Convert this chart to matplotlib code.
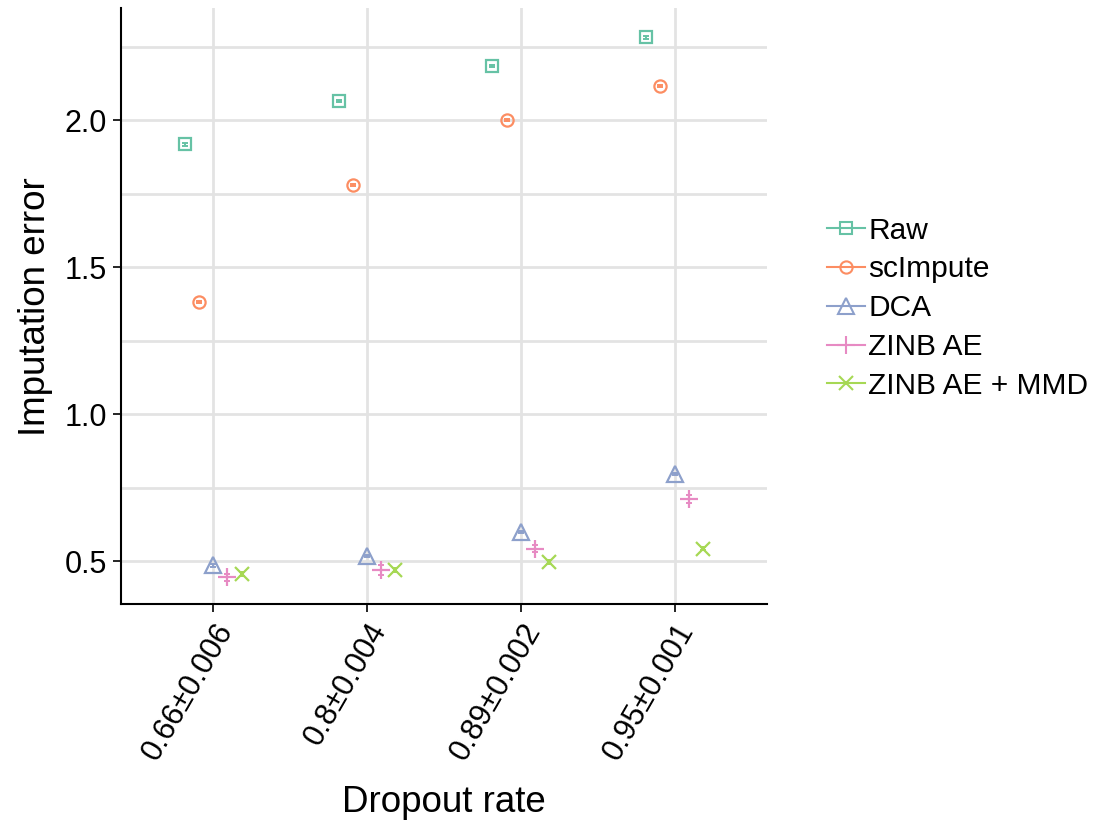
import numpy as np
import matplotlib
matplotlib.use("Agg")
from matplotlib import pyplot as plt
from matplotlib.lines import Line2D

plt.rcParams['font.family'] = ['Liberation Sans', 'DejaVu Sans']

dropout_labels = ["0.66±0.006", "0.8±0.004", "0.89±0.002", "0.95±0.001"]
methods = ["Raw", "scImpute", "DCA", "ZINB AE", "ZINB AE + MMD"]

raw_err = [1.918, 2.065, 2.184, 2.282]
scimpute_err = [1.381, 1.779, 2.000, 2.116]
dca_err = [0.485, 0.517, 0.598, 0.796]
zinb_err = [0.445, 0.469, 0.542, 0.712]
zinb_mmd_err = [0.455, 0.470, 0.496, 0.542]

raw_sd = [0.004, 0.004, 0.004, 0.004]
scimpute_sd = [0.004, 0.004, 0.004, 0.004]
dca_sd = [0.004, 0.004, 0.004, 0.004]
zinb_sd = [0.012, 0.018, 0.012, 0.014]
zinb_mmd_sd = [0.006, 0.006, 0.006, 0.006]

colors = ["#66c2a5", "#fc8d62", "#8da0cb", "#e78ac3", "#a6d854"]
markers = ["s", "o", "^", "+", "x"]
msizes = [8.8, 8.8, 11, 13, 9.5]

values = [raw_err, scimpute_err, dca_err, zinb_err, zinb_mmd_err]
sds = [raw_sd, scimpute_sd, dca_sd, zinb_sd, zinb_mmd_sd]

fig = plt.figure(figsize=(11.05, 8.33), dpi=100)
ax = fig.add_axes([0.1095, 0.275, 0.5845, 0.715])

x = np.arange(len(dropout_labels))
offsets = np.linspace(-0.185, 0.185, len(methods))

for i, name in enumerate(methods):
    xs = x + offsets[i]
    ax.errorbar(xs, values[i], yerr=sds[i], fmt="none", ecolor=colors[i],
                elinewidth=1.4, capsize=2.5, capthick=1.4, zorder=3)
    ax.plot(xs, values[i], linestyle="none", marker=markers[i], markersize=msizes[i],
            markerfacecolor="none", markeredgecolor=colors[i], markeredgewidth=1.6,
            zorder=4)

ax.set_xlim(-0.6, 3.6)
ax.set_ylim(0.354, 2.381)
ax.set_xticks(x)
ax.set_xticklabels(dropout_labels, rotation=60, ha="right", rotation_mode="anchor")
ax.set_yticks([0.5, 1.0, 1.5, 2.0])
ax.set_yticks([0.75, 1.25, 1.75, 2.25], minor=True)
ax.tick_params(axis="both", which="major", labelsize=22, length=6, width=1.2,
               direction="out", color="black", pad=4)
ax.tick_params(axis="y", which="minor", length=0)

ax.grid(True, which="both", axis="y", color="#e3e3e3", linewidth=2)
ax.grid(True, which="major", axis="x", color="#e3e3e3", linewidth=2)
ax.set_axisbelow(True)

for s in ["top", "right"]:
    ax.spines[s].set_visible(False)
for s in ["left", "bottom"]:
    ax.spines[s].set_linewidth(1.5)

ax.set_xlabel("Dropout rate", fontsize=26.5, labelpad=14)
ax.set_ylabel("Imputation error", fontsize=26.5, labelpad=8)

handles = [Line2D([0], [0], color=colors[i], marker=markers[i], markersize=msizes[i],
                  markerfacecolor="none", markeredgewidth=1.5, linewidth=1.5)
           for i in range(len(methods))]
fig.legend(handles, methods, loc="center left", bbox_to_anchor=(0.748, 0.63),
           frameon=False, fontsize=21.5, handlelength=1.3, handletextpad=0.1,
           labelspacing=0.36, borderaxespad=0, borderpad=0)

fig.savefig("out.png", dpi=100)
